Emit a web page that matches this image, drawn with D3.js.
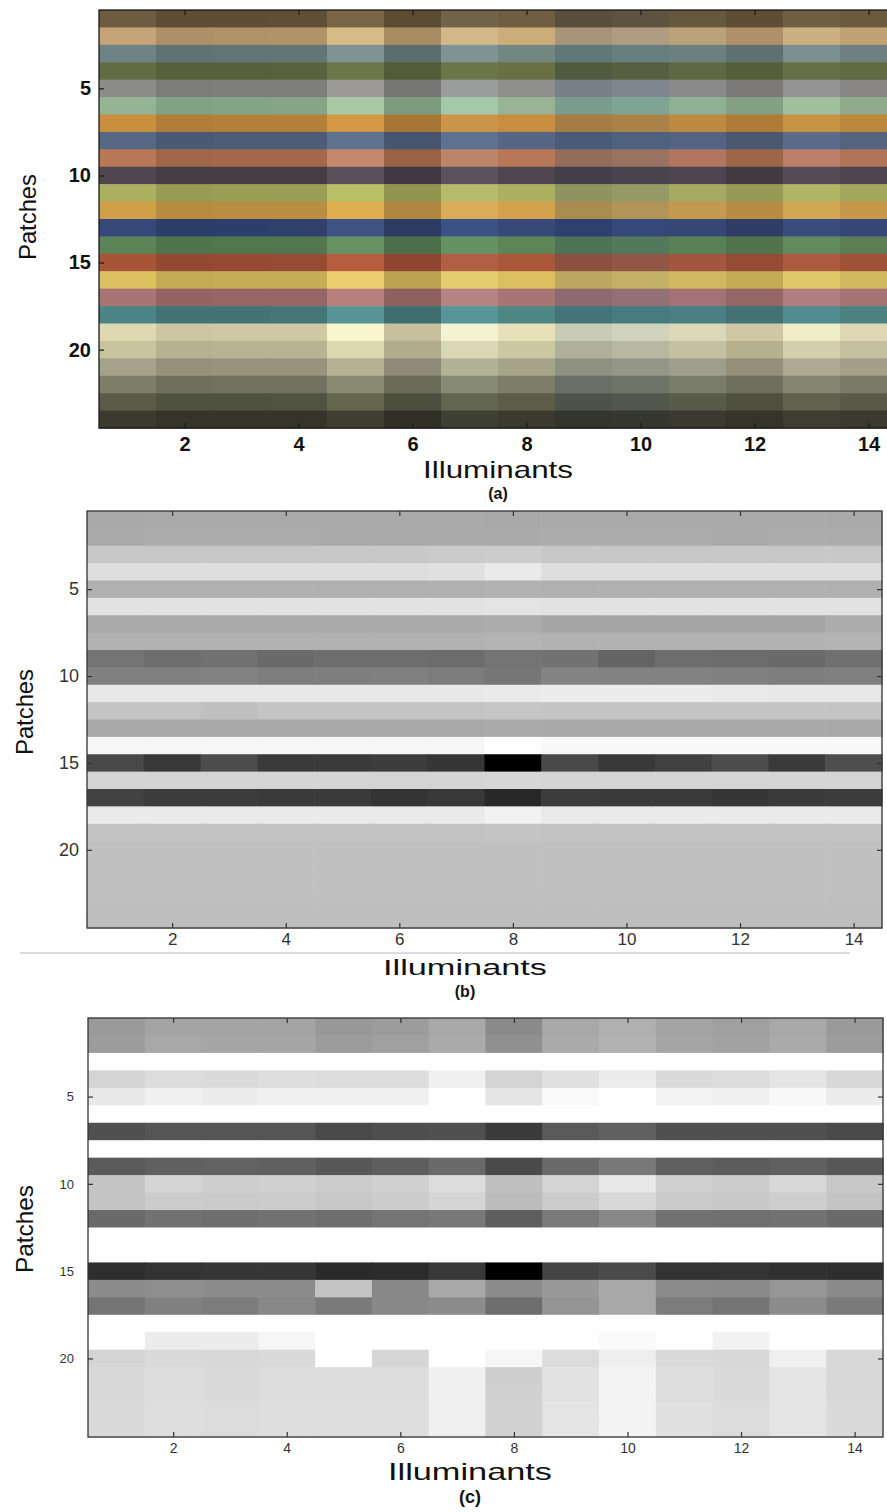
<!DOCTYPE html>
<html>
<head>
<meta charset="utf-8">
<script src="https://cdn.jsdelivr.net/npm/d3@7"></script>
<style>
  html, body { margin: 0; padding: 0; background: #fff; }
  svg { display: block; }
  text { font-family: "Liberation Sans", Arial, sans-serif; }
</style>
</head>
<body>
<svg id="chart" width="887" height="1512"></svg>
<script>
// Patch index (rows) and illuminant index (columns)
const patches = [1,2,3,4,5,6,7,8,9,10,11,12,13,14,15,16,17,18,19,20,21,22,23,24];
const illuminants = [1,2,3,4,5,6,7,8,9,10,11,12,13,14];
const xTicks = [2,4,6,8,10,12,14];
const yTicks = [5,10,15,20];

// (a) rendered patch colours, one row per patch, one entry per illuminant
const rgbPatches = [
  ["#6e5c40","#5e4e36","#5e4e36","#604f37","#7a6647","#5c4b33","#72644a","#705e40","#5a4e3c","#5e5240","#66583e","#5e4e36","#6e5e42","#6a5a3e"],
  ["#c4a478","#ae9068","#b09268","#b09468","#d8bc88","#a88c62","#d2b888","#ccac78","#a89478","#b09c80","#bca27a","#b09068","#ccb084","#c0a274"],
  ["#6e8484","#5e7474","#607676","#627676","#7e9494","#5a6e6e","#7e9494","#728682","#607878","#668080","#6c8080","#5e7070","#7a9090","#6e8080"],
  ["#646c44","#56603a","#56603a","#58623c","#6c7648","#525c38","#6a7548","#687044","#505a3e","#566040","#5e6842","#565e3a","#667046","#626a42"],
  ["#8c8c8a","#7c7c7a","#7e7e7c","#7e7e7c","#9c9a96","#767674","#9a9c9c","#8e8e8c","#788088","#7e8690","#8a8a8a","#7c7a78","#949494","#888684"],
  ["#94b494","#82a284","#84a486","#86a486","#a8c8a4","#7c9a7e","#a4c8a8","#98b494","#7a9c8c","#80a494","#90b094","#84a082","#a0c09e","#90aa8c"],
  ["#c8903c","#b07e38","#b28038","#b28038","#d49844","#a87634","#cc9448","#c88e40","#a47c44","#aa8248","#bc8a40","#ae7c38","#c89444","#bc883c"],
  ["#566884","#4a5a74","#4c5c76","#4c5c76","#5e7290","#46566e","#5c7290","#566684","#485c7a","#4e6280","#546480","#4a5870","#5a6c8a","#54647e"],
  ["#b87858","#a06648","#a2684a","#a2684a","#c4886c","#9a6244","#bc8468","#b87858","#946c5c","#9a7262","#b07660","#9e6648","#bc806a","#b07458"],
  ["#504650","#463c44","#463c44","#463c44","#5a505a","#403840","#5a525c","#504650","#423e4a","#48444e","#4c444e","#443a42","#564c58","#4e4450"],
  ["#aab060","#969c54","#989e54","#989e56","#b8c068","#909650","#b4bc6c","#aab060","#8e9460","#949a66","#a4aa62","#969a54","#b0b668","#a4a85e"],
  ["#d0a048","#b88c40","#ba8e40","#ba8e42","#e0b050","#b08640","#d8ac58","#d2a24c","#aa8c50","#b29458","#c49a50","#b88c42","#d2a854","#c49848"],
  ["#36487a","#2e3e6a","#2e3e6c","#30406c","#3e5284","#2c3a64","#3c5284","#384878","#2e4070","#34487a","#364676","#303e66","#3a4c7e","#364676"],
  ["#5c8458","#50744c","#52764e","#52764e","#689264","#4c6e48","#649264","#5e8458","#4e7256","#54785c","#5a8058","#52744c","#628a5e","#5c7e54"],
  ["#a85438","#944a32","#964a32","#964c34","#b85c40","#8e4630","#b05e44","#aa5638","#8c5040","#925646","#a2563e","#944c34","#ac5a40","#a05238"],
  ["#dcc060","#c4aa54","#c6ac56","#c6ac56","#ecd070","#bca250","#e4cc70","#dcc060","#baa860","#c2b066","#d0b860","#c4aa54","#e0c86a","#d2b85e"],
  ["#a87474","#946464","#966666","#966666","#b8807c","#8e6060","#b48484","#a87474","#8c6a70","#927076","#a27276","#946666","#b07e80","#a47474"],
  ["#4c8486","#427476","#427476","#447678","#589496","#3e6e70","#56969a","#4e8684","#427478","#467c80","#4a8084","#427274","#528c90","#4c8282"],
  ["#e0d8b0","#cec6a0","#d0c8a2","#d0c8a2","#f8f4cc","#c8c09c","#f4f2d0","#e8e0b8","#c8ccb4","#d0d4bc","#dcd8b8","#d0c8a4","#f0ecc8","#e0d8b4"],
  ["#c8c4a0","#b6b290","#b8b492","#b8b492","#dcd8b0","#b0ac8c","#d8d8b4","#ccc8a4","#aeb09c","#b6b8a2","#c4c0a2","#b6b08e","#d4d0ae","#c6c0a0"],
  ["#a4a288","#94927a","#96947c","#96947c","#b4b294","#8e8c76","#b0b296","#a6a488","#8e9082","#949688","#a0a08a","#949078","#acaa90","#a2a086"],
  ["#7c7e68","#6e705c","#70725e","#70725e","#888a72","#6a6c58","#868a74","#7e7e68","#6a6e64","#707468","#7a7c6a","#6e6e5c","#848670","#7a7a66"],
  ["#5a5c48","#505240","#505240","#525442","#64664e","#4c4e3e","#626650","#5c5c48","#4e5248","#52564c","#585a4a","#505040","#60624e","#5a5a48"],
  ["#3a3a2e","#343428","#343428","#343428","#404032","#303026","#3e4034","#3a3a2e","#34362e","#363830","#3a3a30","#343428","#3e3e32","#3a3a2e"]
];

// (b) grey level (0-255) per patch and illuminant
const greyB = [
  [168,170,170,170,170,170,170,168,170,170,170,170,170,170],
  [171,172,172,172,171,171,171,170,172,172,172,171,172,172],
  [200,200,200,200,200,200,202,204,200,200,200,200,200,200],
  [222,222,222,222,222,222,224,234,222,222,222,222,222,222],
  [176,176,176,176,176,176,176,178,176,176,176,176,176,176],
  [226,226,226,226,226,226,226,228,226,226,226,226,226,226],
  [170,170,170,170,170,170,170,172,166,166,166,166,166,172],
  [178,178,178,178,178,178,178,180,178,178,178,178,178,180],
  [116,110,114,106,110,110,108,116,114,100,110,108,106,112],
  [128,128,130,126,126,128,124,118,132,130,130,128,126,128],
  [232,232,232,232,232,232,232,234,236,236,236,234,232,232],
  [196,196,192,196,196,196,196,198,196,196,196,196,196,196],
  [168,168,168,168,168,168,168,170,168,168,168,168,168,168],
  [246,246,246,246,246,246,246,255,248,248,248,248,248,248],
  [72,56,76,58,58,60,54,0,72,56,64,76,58,78],
  [212,212,212,212,212,212,212,214,212,212,212,212,212,212],
  [66,60,60,58,58,52,56,40,60,58,58,54,58,60],
  [234,234,234,234,234,234,234,242,234,234,234,234,234,234],
  [194,194,194,194,194,194,194,196,194,194,194,194,194,194],
  [192,192,192,192,192,192,192,192,192,192,192,192,192,192],
  [192,192,192,192,192,192,192,192,192,192,192,192,192,192],
  [192,192,192,192,192,192,192,192,192,192,192,192,192,192],
  [191,191,191,191,191,191,191,191,191,191,191,191,191,191],
  [190,190,190,190,190,190,190,190,190,190,190,190,190,190]
];

// (c) grey level (0-255) per patch and illuminant
const greyC = [
  [154,164,164,164,152,156,168,138,168,176,164,160,168,154],
  [156,168,166,166,156,160,170,144,170,178,166,162,170,156],
  [254,254,254,254,254,254,254,254,254,254,254,254,254,254],
  [212,220,218,222,220,220,240,212,224,236,218,220,228,216],
  [232,240,236,240,240,240,255,228,250,255,244,240,248,236],
  [254,254,254,254,254,254,254,254,254,254,254,254,254,254],
  [80,85,85,85,74,78,80,58,90,96,80,80,80,74],
  [254,254,254,254,254,254,254,254,254,254,254,254,254,254],
  [90,96,98,96,88,94,106,74,106,120,96,92,96,88],
  [196,212,206,208,204,208,220,192,212,232,208,204,216,200],
  [196,204,202,204,200,204,212,188,204,216,202,200,206,196],
  [106,114,110,114,110,116,120,94,122,136,114,112,114,106],
  [254,254,254,254,254,254,254,254,254,254,254,254,254,254],
  [254,254,254,254,254,254,254,254,254,254,254,254,254,254],
  [46,51,53,54,42,44,56,0,68,74,51,51,48,46],
  [140,142,140,140,196,136,168,140,153,168,140,138,150,138],
  [116,128,124,136,122,136,140,110,149,168,124,116,140,122],
  [254,254,254,254,254,254,254,254,254,254,254,254,254,254],
  [255,236,236,246,255,255,255,255,254,250,255,242,255,255],
  [212,218,216,218,255,214,255,246,220,238,218,216,240,216],
  [216,220,218,220,220,220,240,206,226,244,222,218,228,216],
  [216,220,218,220,220,220,240,208,226,244,222,218,228,216],
  [218,222,220,222,222,222,240,210,228,244,224,220,228,218],
  [218,222,220,222,222,222,240,210,228,244,224,220,228,218]
];

const svg = d3.select("#chart");
svg.append("rect").attr("width", 887).attr("height", 1512).attr("fill", "#fff");

function drawPanel(opt) {
  const g = svg.append("g");
  const x = d3.scaleLinear().domain([0.5, 14.5]).range([opt.x0, opt.x1]);
  const y = d3.scaleLinear().domain([0.5, 24.5]).range([opt.y0, opt.y1]);
  const cellW = x(1.5) - x(0.5);
  const cellH = y(1.5) - y(0.5);

  // heatmap cells
  const cells = [];
  patches.forEach((p, i) => illuminants.forEach((k, j) => {
    cells.push({ p, k, v: opt.values[i][j] });
  }));
  g.selectAll("rect.cell").data(cells).join("rect")
    .attr("class", "cell")
    .attr("x", d => x(d.k - 0.5))
    .attr("y", d => y(d.p - 0.5))
    .attr("width", cellW + 0.6)
    .attr("height", cellH + 0.6)
    .attr("fill", d => opt.color(d.v));

  // frame
  g.append("rect")
    .attr("x", opt.x0).attr("y", opt.y0)
    .attr("width", opt.x1 - opt.x0).attr("height", opt.y1 - opt.y0)
    .attr("fill", "none").attr("stroke", opt.frame).attr("stroke-width", 1.3);

  const tickLen = 5;
  // inward ticks on all four sides
  const axB = d3.axisBottom(x).tickValues(xTicks).tickSizeInner(-tickLen).tickSizeOuter(0)
    .tickPadding(opt.xPad).tickFormat(d3.format("d"));
  const axT = d3.axisTop(x).tickValues(xTicks).tickSizeInner(-tickLen).tickSizeOuter(0).tickFormat("");
  const axL = d3.axisLeft(y).tickValues(yTicks).tickSizeInner(-tickLen).tickSizeOuter(0)
    .tickPadding(opt.yPad).tickFormat(d3.format("d"));
  const axR = d3.axisRight(y).tickValues(yTicks).tickSizeInner(-tickLen).tickSizeOuter(0).tickFormat("");

  const gb = g.append("g").attr("transform", `translate(0,${opt.y1})`).call(axB);
  const gt = g.append("g").attr("transform", `translate(0,${opt.y0})`).call(axT);
  const gl = g.append("g").attr("transform", `translate(${opt.x0},0)`).call(axL);
  const gr = g.append("g").attr("transform", `translate(${opt.x1},0)`).call(axR);
  [gb, gt, gl, gr].forEach(a => {
    a.select(".domain").remove();
    a.selectAll(".tick line").attr("stroke", opt.frame).attr("stroke-width", 1.2);
  });
  gb.selectAll(".tick text")
    .attr("font-size", opt.xFont).attr("fill", opt.tickColor)
    .attr("font-weight", opt.tickWeight).attr("font-family", "Liberation Sans, Arial, sans-serif");
  gl.selectAll(".tick text")
    .attr("font-size", opt.yFont).attr("fill", opt.tickColor)
    .attr("font-weight", opt.tickWeight).attr("font-family", "Liberation Sans, Arial, sans-serif");

  // axis titles and panel tag
  g.append("text")
    .attr("x", opt.xlabX).attr("y", opt.xlabY)
    .attr("text-anchor", "middle")
    .attr("font-size", opt.xlabFont).attr("fill", "#111")
    .attr("textLength", opt.xlabLen).attr("lengthAdjust", "spacingAndGlyphs")
    .text("Illuminants");
  g.append("text")
    .attr("x", opt.xlabX).attr("y", opt.tagY)
    .attr("text-anchor", "middle")
    .attr("font-size", opt.tagFont).attr("font-weight", "bold").attr("fill", "#111")
    .text(opt.tag);
  g.append("text")
    .attr("transform", `translate(${opt.ylabX},${opt.ylabY}) rotate(-90)`)
    .attr("text-anchor", "middle")
    .attr("font-size", opt.ylabFont).attr("fill", "#111")
    .attr("textLength", opt.ylabLen).attr("lengthAdjust", "spacingAndGlyphs")
    .text("Patches");
  return g;
}

const grey = v => d3.rgb(v, v, v).formatHex();

drawPanel({
  values: rgbPatches, color: v => v,
  x0: 99, x1: 897, y0: 10, y1: 428,
  frame: "#1a1a1a", tickColor: "#111", tickWeight: "bold",
  xFont: 20, yFont: 20, xPad: 9, yPad: 8,
  xlabX: 498, xlabY: 478, xlabFont: 24, xlabLen: 150,
  tagY: 499, tagFont: 16, tag: "(a)",
  ylabX: 36, ylabY: 217, ylabFont: 24, ylabLen: 86
});

const panelB = drawPanel({
  values: greyB, color: grey,
  x0: 87, x1: 882, y0: 511, y1: 928,
  frame: "#333", tickColor: "#333", tickWeight: "normal",
  xFont: 17, yFont: 18, xPad: 5, yPad: 8,
  xlabX: 465, xlabY: 975, xlabFont: 22, xlabLen: 164,
  tagY: 997, tagFont: 16, tag: "(b)",
  ylabX: 33, ylabY: 712, ylabFont: 24, ylabLen: 86
});
// thin separator under the (b) tick labels
panelB.append("line")
  .attr("x1", 20).attr("x2", 850).attr("y1", 953).attr("y2", 953)
  .attr("stroke", "#bbb").attr("stroke-width", 1);

drawPanel({
  values: greyC, color: grey,
  x0: 88, x1: 883, y0: 1018, y1: 1437,
  frame: "#333", tickColor: "#333", tickWeight: "normal",
  xFont: 14, yFont: 13, xPad: 6, yPad: 14,
  xlabX: 470, xlabY: 1480, xlabFont: 24, xlabLen: 164,
  tagY: 1503, tagFont: 18, tag: "(c)",
  ylabX: 33, ylabY: 1229, ylabFont: 24, ylabLen: 88
});
</script>
</body>
</html>
